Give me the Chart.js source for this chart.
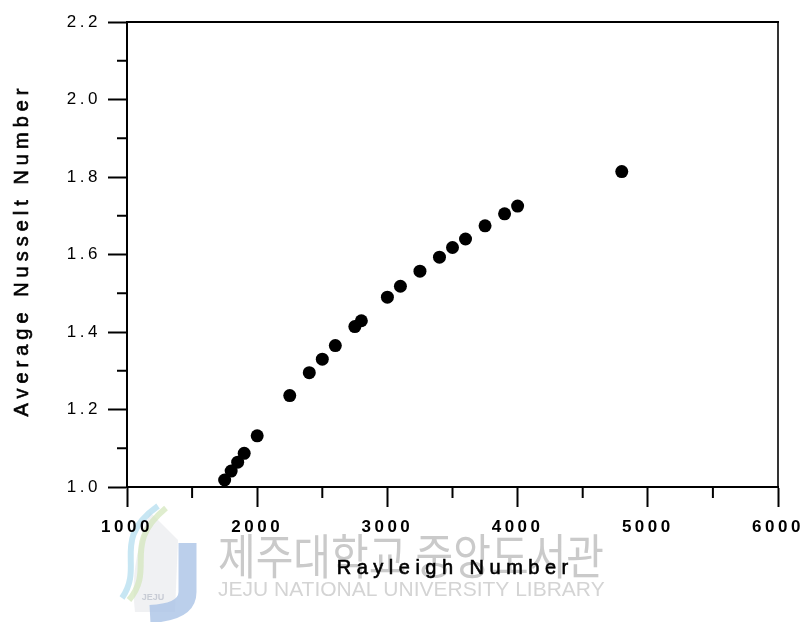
<!DOCTYPE html>
<html>
<head>
<meta charset="utf-8">
<script src="https://cdn.jsdelivr.net/npm/chart.js@4.4.0/dist/chart.umd.min.js"></script>
<style>
  html, body { margin: 0; padding: 0; background: #fff; }
  #wrap { width: 809px; height: 622px; }
</style>
</head>
<body>
<div id="wrap"><canvas id="c" width="809" height="622"></canvas></div>
<script>
// ---- data ----
const rayleigh = [1750, 1800, 1850, 1900, 2000, 2250, 2400, 2500, 2600, 2750, 2800,
                  3000, 3100, 3250, 3400, 3500, 3600, 3750, 3900, 4000, 4800];
const nusselt  = [1.018, 1.041, 1.064, 1.087, 1.132, 1.236, 1.295, 1.330, 1.365, 1.414, 1.429,
                  1.490, 1.518, 1.557, 1.593, 1.618, 1.640, 1.674, 1.705, 1.725, 1.814];
const xMajorTicks = [1000, 2000, 3000, 4000, 5000, 6000];
const xMinorTicks = [1500, 2500, 3500, 4500, 5500];
const yMajorTicks = [1.0, 1.2, 1.4, 1.6, 1.8, 2.0, 2.2];
const yMinorTicks = [1.1, 1.3, 1.5, 1.7, 1.9, 2.1];
const xTitle = 'Rayleigh Number';
const yTitle = 'Average Nusselt Number';
const watermarkKo = '제주대학교 중앙도서관';
const watermarkEn = 'JEJU NATIONAL UNIVERSITY LIBRARY';

const points = rayleigh.map((x, i) => ({ x: x, y: nusselt[i] }));

const decorPlugin = {
  id: 'decor',
  beforeDraw(chart) {
    const ctx = chart.ctx;
    ctx.save();
    ctx.fillStyle = '#fff';
    ctx.fillRect(0, 0, chart.width, chart.height);
    // watermark logo (approximate)
    ctx.lineCap = 'butt';
    ctx.fillStyle = 'rgba(238,240,242,0.9)';
    ctx.beginPath();
    ctx.moveTo(150, 512); ctx.bezierCurveTo(140, 540, 130, 570, 135, 612);
    ctx.lineTo(175, 612); ctx.lineTo(178, 540); ctx.closePath(); ctx.fill();
    ctx.strokeStyle = 'rgba(170,195,230,0.8)';
    ctx.lineWidth = 18;
    ctx.beginPath();
    ctx.moveTo(187.5, 543); ctx.lineTo(187.5, 592);
    ctx.quadraticCurveTo(187.5, 612, 150, 614);
    ctx.stroke();
    ctx.lineWidth = 6;
    ctx.strokeStyle = 'rgba(175,220,238,0.7)';
    ctx.beginPath();
    ctx.moveTo(158, 506); ctx.bezierCurveTo(110, 540, 145, 565, 122, 598); ctx.stroke();
    ctx.strokeStyle = 'rgba(210,230,185,0.7)';
    ctx.beginPath();
    ctx.moveTo(166, 508); ctx.bezierCurveTo(121, 545, 156, 568, 129, 600); ctx.stroke();
    ctx.fillStyle = 'rgba(195,200,210,0.9)';
    ctx.font = 'bold 9px "Liberation Sans", Arial, sans-serif';
    ctx.textAlign = 'center';
    ctx.fillText('JEJU', 153, 600);
    // watermark text
    ctx.textAlign = 'left';
    ctx.fillStyle = '#cacaca';
    ctx.font = '48px "Noto Sans CJK KR", sans-serif';
    ctx.textBaseline = 'alphabetic';
    ctx.fillText(watermarkKo, 218, 574, 386);
    ctx.fillStyle = '#d4d4d4';
    ctx.font = '21px "Liberation Sans", Arial, sans-serif';
    ctx.fillText(watermarkEn, 218, 596, 387);
    ctx.restore();
    ctx.letterSpacing = '3.5px';
  },
  afterDraw(chart) {
    const ctx = chart.ctx;
    const a = chart.chartArea;
    const xs = chart.scales.x, ys = chart.scales.y;
    ctx.save();
    ctx.letterSpacing = '0px';
    ctx.strokeStyle = '#000';
    // top and right frame
    ctx.lineWidth = 2;
    ctx.beginPath(); ctx.moveTo(a.left, a.top); ctx.lineTo(a.right + 1, a.top); ctx.stroke();
    ctx.lineWidth = 1.6;
    ctx.beginPath(); ctx.moveTo(a.right, a.top); ctx.lineTo(a.right, a.bottom); ctx.stroke();
    // minor ticks
    ctx.lineWidth = 2;
    xMinorTicks.forEach(v => {
      const px = xs.getPixelForValue(v);
      ctx.beginPath(); ctx.moveTo(px, a.bottom); ctx.lineTo(px, a.bottom + 11); ctx.stroke();
    });
    yMinorTicks.forEach(v => {
      const py = ys.getPixelForValue(v);
      ctx.beginPath(); ctx.moveTo(a.left, py); ctx.lineTo(a.left - 10, py); ctx.stroke();
    });
    // axis titles (slightly thickened like the scanned original)
    ctx.fillStyle = '#000';
    ctx.strokeStyle = '#000';
    ctx.lineWidth = 0.6;
    ctx.font = '20px "Liberation Sans", Arial, sans-serif';
    ctx.textBaseline = 'alphabetic';
    ctx.textAlign = 'center';
    ctx.letterSpacing = '5.5px';
    const tx = (a.left + a.right) / 2 + 2.75;
    ctx.fillText(xTitle, tx, 574);
    ctx.strokeText(xTitle, tx, 574);
    ctx.save();
    ctx.translate(28, (a.top + a.bottom) / 2 - 2);
    ctx.rotate(-Math.PI / 2);
    ctx.letterSpacing = '5px';
    ctx.fillText(yTitle, 2.5, 0);
    ctx.strokeText(yTitle, 2.5, 0);
    ctx.restore();
    ctx.restore();
    ctx.letterSpacing = '0px';
  }
};

new Chart(document.getElementById('c'), {
  type: 'scatter',
  data: {
    datasets: [{
      data: points,
      backgroundColor: '#000',
      borderWidth: 0,
      pointRadius: 6.5,
      pointHoverRadius: 6.5,
      clip: false
    }]
  },
  options: {
    responsive: false,
    animation: false,
    events: [],
    layout: { padding: { top: 22, right: 31, left: 0, bottom: 0 } },
    plugins: { legend: { display: false }, tooltip: { enabled: false } },
    scales: {
      x: {
        type: 'linear',
        min: 1000, max: 6000,
        afterBuildTicks: s => { s.ticks = xMajorTicks.map(v => ({ value: v })); },
        afterFit: s => { s.height = 135; },
        grid: { display: true, drawOnChartArea: false, drawTicks: true, tickLength: 20, tickWidth: 2, tickColor: '#000' },
        border: { display: true, color: '#000', width: 2 },
        ticks: {
          color: '#000', padding: 10, maxRotation: 0, autoSkip: false,
          font: { family: '"Liberation Sans", Arial, sans-serif', size: 17, weight: 'bold' },
          callback: v => String(v)
        }
      },
      y: {
        type: 'linear',
        min: 1.0, max: 2.2,
        afterBuildTicks: s => { s.ticks = yMajorTicks.map(v => ({ value: v })); },
        afterFit: s => { s.width = 127; },
        grid: { display: true, drawOnChartArea: false, drawTicks: true, tickLength: 19, tickWidth: 2, tickColor: '#000' },
        border: { display: true, color: '#000', width: 2 },
        ticks: {
          color: '#000', padding: 7, autoSkip: false,
          font: { family: '"Liberation Sans", Arial, sans-serif', size: 17 },
          callback: v => Number(v).toFixed(1)
        }
      }
    }
  },
  plugins: [decorPlugin]
});
</script>
</body>
</html>
